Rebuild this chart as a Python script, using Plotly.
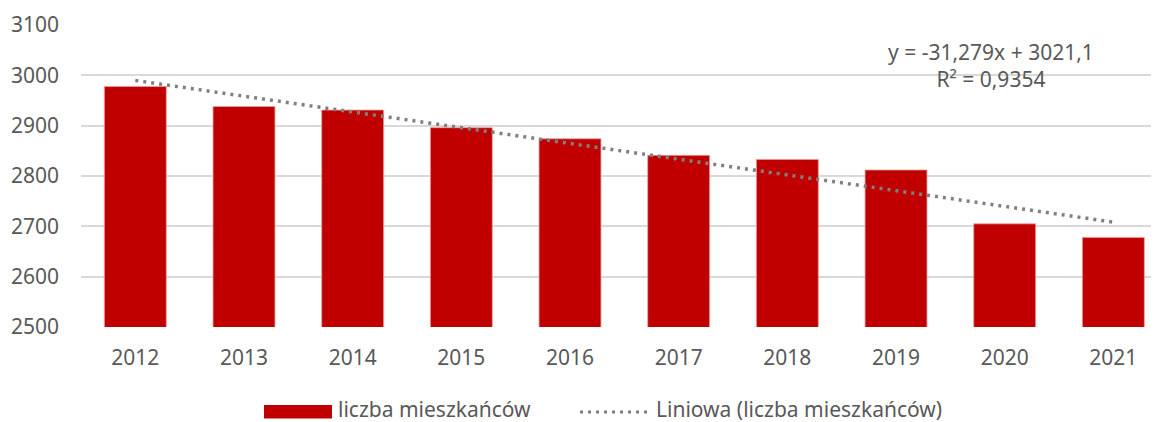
import plotly.graph_objects as go

# data
years = ["2012", "2013", "2014", "2015", "2016", "2017", "2018", "2019", "2020", "2021"]
residents = [2978, 2938, 2931, 2896, 2874, 2841, 2833, 2812, 2705, 2678]
trend_slope = -31.279
trend_intercept = 3021.1
trend_r2 = 0.9354
y_ticks = [2500, 2600, 2700, 2800, 2900, 3000, 3100]

bar_name = "liczba mieszkańców"
trend_name = "Liniowa (liczba mieszkańców)"
eq_text = "y = -31,279x + 3021,1<br>R² = 0,9354"

# linear trendline (Excel style, x = 1..n), drawn between first and last category
trend_x = [years[0], years[-1]]
trend_y = [trend_slope * 1 + trend_intercept, trend_slope * len(years) + trend_intercept]

FONT = "Noto Sans"
GREY = "#595959"

# page body has an 8px margin, so the figure is a bit smaller than the window
OFF = 8
W, H = 1159 - OFF, 422 - OFF
ML, MR, MT, MB = 81 - OFF, 0, 25 - OFF, 95

def px(x):
    # screen pixel -> paper x
    return (x - OFF - ML) / (W - ML - MR)

def py(y):
    # screen pixel -> paper y
    return (H - MB - (y - OFF)) / (H - MT - MB)

fig = go.Figure()
fig.add_trace(go.Bar(
    x=years, y=residents, name=bar_name,
    marker=dict(color="#c00000", line=dict(color="#e8a0a0", width=0.8)),
    showlegend=False,
))
fig.add_trace(go.Scatter(
    x=trend_x, y=trend_y, mode="lines", name=trend_name,
    line=dict(color="#808080", width=3.5, dash="3px,5px"),
    showlegend=False,
))

# equation of the trendline
fig.add_annotation(
    text=eq_text, x=px(991), y=py(65), xref="paper", yref="paper",
    xanchor="center", yanchor="middle",
    showarrow=False, align="center", font=dict(family=FONT, size=21, color=GREY),
)

# legend drawn by hand so the swatches look like the original
fig.add_shape(type="rect", xref="paper", yref="paper",
              x0=px(264), x1=px(332), y0=py(418.5), y1=py(405),
              fillcolor="#c00000", line=dict(width=0))
fig.add_annotation(text=bar_name, x=px(337), y=py(424), xref="paper", yref="paper",
                   xanchor="left", yanchor="bottom", showarrow=False, borderpad=0,
                   font=dict(family=FONT, size=21, color=GREY))
fig.add_shape(type="line", xref="paper", yref="paper",
              x0=px(580), x1=px(651), y0=py(412), y1=py(412),
              line=dict(color="#808080", width=3, dash="3px,5px"))
fig.add_annotation(text=trend_name, x=px(655), y=py(424), xref="paper", yref="paper",
                   xanchor="left", yanchor="bottom", showarrow=False, borderpad=0,
                   font=dict(family=FONT, size=21, color=GREY))

fig.update_layout(
    width=W, height=H,
    margin=dict(l=ML, r=MR, t=MT, b=MB),
    plot_bgcolor="white", paper_bgcolor="white",
    bargap=0.43,
    font=dict(family=FONT, size=21, color=GREY),
)
fig.update_xaxes(
    type="category", range=[-0.5, 9.42],
    showgrid=False, showline=False, ticks="",
    ticklabelstandoff=16,
    tickfont=dict(family=FONT, size=21, color=GREY),
)
fig.update_yaxes(
    range=[2500, 3100], tickvals=y_ticks,
    showgrid=True, gridcolor="#d9d9d9", gridwidth=1.5,
    zeroline=False, showline=False, ticks="",
    ticklabelstandoff=21,
    tickfont=dict(family=FONT, size=21, color=GREY),
)

fig.write_html("out.html")
